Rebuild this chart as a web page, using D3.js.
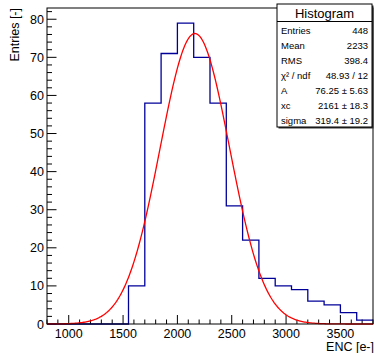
<!DOCTYPE html>
<meta charset="utf-8">
<style>
body { margin: 0; background: #fff; }
text { font-family: "Liberation Sans", Arial, sans-serif; fill: #000; }
</style>
<body>
<svg width="374" height="353"></svg>
<script src="https://d3js.org/d3.v7.min.js"></script>
<script>

// histogram bins (lower edges) and counts
var binEdges = [800, 950, 1100, 1250, 1400, 1550, 1700, 1850, 2000, 2150,
                2300, 2450, 2600, 2750, 2900, 3050, 3200, 3350, 3500, 3650, 3800];
var binCounts = [0, 0, 0, 0, 0, 10, 58, 71, 79, 70,
                 58, 31, 22, 12, 10, 9, 6, 5, 3, 1];

var xTicks = [1000, 1500, 2000, 2500, 3000, 3500];
var yTicks = [0, 10, 20, 30, 40, 50, 60, 70, 80];

// gaussian fit parameters (from the stats box)
var fitA = 76.25, fitXc = 2161, fitSigma = 319.4;

var statLabels = ["Entries", "Mean", "RMS", "\u03c7\u00b2 / ndf", "A", "xc", "sigma"];
var statValues = ["448", "2233", "398.4", "48.93 / 12", "76.25 \u00b1 5.63", "2161 \u00b1 18.3", "319.4 \u00b1 19.2"];

var svg = d3.select("svg");
var padL = 47, padR = 373, padT = 8, padB = 324;

var x = d3.scaleLinear().domain([800, 3800]).range([padL, padR]);
var y = d3.scaleLinear().domain([0, 82.95]).range([padB, padT]);

// ticks (major + minor)
var g = svg.append("g");
g.selectAll(".xminor").data(d3.range(800, 3801, 100)).enter().append("line")
    .attr("x1", d => x(d)).attr("x2", d => x(d))
    .attr("y1", padB).attr("y2", d => d % 500 == 0 ? padB - 9 : padB - 4.5)
    .attr("stroke", "#000");
g.selectAll(".yminor").data(d3.range(0, 83, 2)).enter().append("line")
    .attr("y1", d => y(d)).attr("y2", d => y(d))
    .attr("x1", padL).attr("x2", d => d % 10 == 0 ? padL + 9.5 : padL + 5)
    .attr("stroke", "#000");

// tick labels
g.selectAll(".xl").data(xTicks).enter().append("text")
    .attr("x", d => x(d)).attr("y", 338)
    .attr("text-anchor", "middle").attr("font-size", 12.5)
    .text(d => d);
g.selectAll(".yl").data(yTicks).enter().append("text")
    .attr("x", padL - 3).attr("y", d => y(d) + 4.5)
    .attr("text-anchor", "end").attr("font-size", 12.5)
    .text(d => d);

// histogram outline
var pts = [[binEdges[0], 0]];
binCounts.forEach(function(c, i) {
    pts.push([binEdges[i], c]);
    pts.push([binEdges[i + 1], c]);
});
svg.append("path")
    .attr("d", d3.line().x(d => x(d[0])).y(d => y(d[1]))(pts))
    .attr("fill", "none").attr("stroke", "#000099").attr("stroke-width", 1.3);

// fit curve
var fitX = d3.range(800, 3801, 10);
svg.append("path")
    .attr("d", d3.line()
        .x(d => x(d))
        .y(d => y(fitA * Math.exp(-0.5 * Math.pow((d - fitXc) / fitSigma, 2))))(fitX))
    .attr("fill", "none").attr("stroke", "#ff0000").attr("stroke-width", 1.3);

// frame
svg.append("rect")
    .attr("x", padL).attr("y", padT)
    .attr("width", padR - padL).attr("height", padB - padT)
    .attr("fill", "none").attr("stroke", "#000");

// axis titles
svg.append("text")
    .attr("x", 374).attr("y", 351).attr("text-anchor", "end").attr("font-size", 12.5)
    .text("ENC [e-]");
svg.append("text")
    .attr("transform", "translate(19,8) rotate(-90)")
    .attr("text-anchor", "end").attr("font-size", 12.5)
    .text("Entries [-]");

// stats box
var bx = 277, bw = 95, by = 4, bh = 123;
svg.append("rect").attr("x", bx + 1.5).attr("y", by + 1.5).attr("width", bw).attr("height", bh)
    .attr("fill", "#333");
svg.append("rect").attr("x", bx).attr("y", by).attr("width", bw).attr("height", bh)
    .attr("fill", "#fff").attr("stroke", "#000");
svg.append("line").attr("x1", bx).attr("x2", bx + bw).attr("y1", 21.5).attr("y2", 21.5)
    .attr("stroke", "#000");
svg.append("text").attr("x", bx + bw / 2).attr("y", 18).attr("text-anchor", "middle")
    .attr("font-size", 13).text("Histogram");
svg.selectAll(".sl").data(statLabels).enter().append("text")
    .attr("x", bx + 4).attr("y", (d, i) => 33.5 + i * 15.1)
    .attr("font-size", 9.5).text(d => d);
svg.selectAll(".sv").data(statValues).enter().append("text")
    .attr("x", bx + bw - 4).attr("y", (d, i) => 33.5 + i * 15.1)
    .attr("text-anchor", "end").attr("font-size", 9.5).text(d => d);

</script>
</body>
